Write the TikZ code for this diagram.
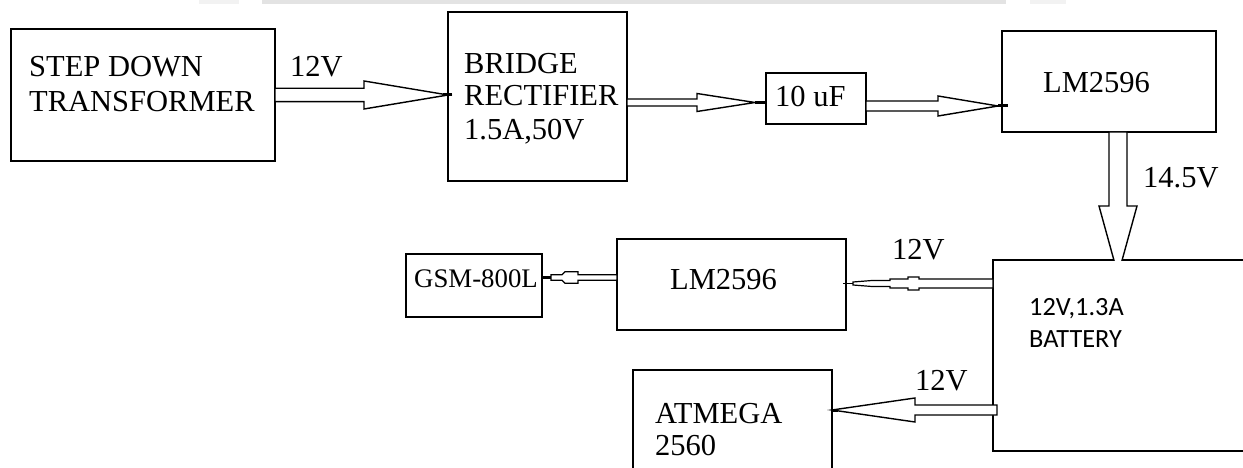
\documentclass[tikz,border=0pt]{standalone}
\usepackage{fontspec}
\setmainfont{Liberation Serif}
\newfontfamily\batfont{Carlito}
\usetikzlibrary{calc}
\tikzset{
  x=1pt, y=-1pt,
  box/.style={draw, line width=1.6pt, inner sep=0pt, outer sep=0pt, anchor=north west, fill=white},
  lbl/.style={anchor=base west, inner sep=0pt, font=\fontsize{30.5}{34}\selectfont},
  gsml/.style={anchor=base west, inner sep=0pt, font=\fontsize{26.8}{30}\selectfont},
  batl/.style={anchor=base west, inner sep=0pt, font=\batfont\fontsize{26.3}{30}\selectfont},
  arrowline/.style={draw, line width=1.4pt, line join=miter, fill=white},
  thinarrow/.style={draw, line width=1.2pt, line join=miter, fill=white},
  stubline/.style={line width=3pt},
}
\newcommand{\boxat}[5]{\node[box, minimum width=#4pt, minimum height=#5pt] (#1) at (#2,#3) {};}
% #1 start coordinate, #2 tip coordinate, #3 shaft half width, #4 head half width, #5 signed head length
\newcommand{\hblock}[5]{%
  \draw[arrowline] let \p1=(#1), \p2=(#2) in
    (\x1,{\y1+#3pt}) -- ({\x2+(#5pt)},{\y1+#3pt}) -- ({\x2+(#5pt)},{\y1+#4pt}) -- (\x2,\y1)
    -- ({\x2+(#5pt)},{\y1-#4pt}) -- ({\x2+(#5pt)},{\y1-#3pt}) -- (\x1,{\y1-#3pt}) -- cycle;}
\begin{document}
\begin{tikzpicture}
\useasboundingbox (0,0) rectangle (1243,468);
% faint strip at the top
\fill[gray!10] (199,0) rectangle (239,4);
\fill[gray!22] (262,0) rectangle (1006,4);
\fill[gray!10] (1030,0) rectangle (1066,4);

% boxes
\boxat{tr}{11}{29}{264}{132}
\boxat{br}{448}{12}{179}{169}
\boxat{cap}{766}{73}{100}{51}
\boxat{lma}{1002}{31}{214}{101}
\boxat{lmb}{617}{239}{229}{91}
\boxat{gsm}{406}{254}{136}{63}
\boxat{atm}{633}{370}{199}{120}
\boxat{bat}{993}{260}{270}{191}

% transformer -> bridge
\coordinate (aS) at (tr.east |- 0,95);
\coordinate (aT) at (br.west |- 0,95);
\hblock{aS}{aT}{6.7}{14}{-84}
\draw[stubline] ($(aT)+(-5,0)$) -- ($(aT)+(4,0)$);

% bridge -> 10 uF
\coordinate (bS) at (br.east |- 0,102.5);
\coordinate (bT) at ($(cap.west |- bS)+(-11,0)$);
\hblock{bS}{bT}{3.5}{9}{-58}
\draw[stubline] (bT) -- (cap.west |- bS);

% 10 uF -> LM2596
\coordinate (cS) at (cap.east |- 0,106);
\coordinate (cT) at ($(lma.west |- cS)+(-4,0)$);
\hblock{cS}{cT}{5}{10}{-60}
\draw[stubline] (cT) -- ($(lma.west |- cS)+(6,0)$);

% LM2596 -> battery (tip hidden behind the battery box)
\coordinate (dS) at ($(lma.south)+(9,0)$);
\begin{scope}
  \clip (lma.south west) rectangle (bat.north east);
  \draw[arrowline] let \p1=(dS) in
    ({\x1-9pt},\y1) -- ({\x1-9pt},{\y1-74pt}) -- ({\x1-19pt},{\y1-74pt}) -- (\x1,{\y1-143pt})
    -- ({\x1+19pt},{\y1-74pt}) -- ({\x1+9pt},{\y1-74pt}) -- ({\x1+9pt},\y1) -- cycle;
\end{scope}

% battery -> lower LM2596
\coordinate (eS) at (bat.west |- 0,283.5);
\coordinate (eT) at ($(lmb.east |- eS)+(-3,0)$);
\draw[thinarrow] let \p1=(eS) in
  (\x1,{\y1+4.5pt}) -- ({\x1-74pt},{\y1+4.5pt}) -- ({\x1-74pt},{\y1+6.5pt}) -- ({\x1-85pt},{\y1+6.5pt})
  -- ({\x1-85pt},{\y1+4.5pt}) -- ({\x1-103pt},{\y1+4.5pt}) -- ({\x1-103pt},{\y1+3pt}) -- ({\x1-121pt},{\y1+3pt})
  -- ({\x1-140pt},{\y1+1.5pt}) -- ({\x1-140pt},{\y1-1.5pt}) -- ({\x1-121pt},{\y1-3pt}) -- ({\x1-103pt},{\y1-3pt})
  -- ({\x1-103pt},{\y1-4.5pt}) -- ({\x1-85pt},{\y1-4.5pt}) -- ({\x1-85pt},{\y1-6.5pt}) -- ({\x1-74pt},{\y1-6.5pt})
  -- ({\x1-74pt},{\y1-4.5pt}) -- (\x1,{\y1-4.5pt}) -- cycle;
\draw[line width=1.2pt] let \p1=(eS) in ({\x1-140pt},\y1) -- (eT);

% lower LM2596 -> GSM
\coordinate (fS) at (lmb.west |- 0,277.5);
\coordinate (fT) at (gsm.east |- fS);
\draw[thinarrow] let \p1=(fS) in
  (\x1,{\y1+2.8pt}) -- ({\x1-39pt},{\y1+2.8pt}) -- ({\x1-39pt},{\y1+5.7pt}) -- ({\x1-52pt},{\y1+5.7pt})
  -- ({\x1-55pt},{\y1+2.8pt}) -- ({\x1-66pt},{\y1+2.8pt}) -- ({\x1-66pt},{\y1-2.8pt}) -- ({\x1-55pt},{\y1-2.8pt})
  -- ({\x1-52pt},{\y1-5.7pt}) -- ({\x1-39pt},{\y1-5.7pt}) -- ({\x1-39pt},{\y1-2.8pt}) -- (\x1,{\y1-2.8pt}) -- cycle;
\draw[stubline] let \p1=(fS) in ({\x1-66pt},\y1) -- (fT);

% battery -> ATMEGA
\coordinate (gS) at ($(bat.west |- 0,410)+(4,0)$);
\coordinate (gT) at (atm.east |- 0,410);
\hblock{gS}{gT}{5}{12}{83}
\draw[stubline] (gT) -- ($(gT)+(6,0)$);

% texts
\node[lbl] (trt1) at (29,77) {STEP DOWN};
\node[lbl] (trt2) at (29,112) {TRANSFORMER};
\node[lbl] (l12a) at (290,77) {12V};
\node[lbl] (brt1) at (464,74) {BRIDGE};
\node[lbl] (brt2) at (464,106) {RECTIFIER};
\node[lbl] (brt3) at (464,140) {1.5A,50V};
\node[lbl] (capt) at (775,107) {10 uF};
\node[lbl] (lmat) at (1043,93) {LM2596};
\node[lbl] (l145) at (1143,188) {14.5V};
\node[lbl] (l12b) at (892,259) {12V};
\node[lbl] (lmbt) at (670,289) {LM2596};
\node[gsml] (gsmt) at (414,287) {GSM-800L};
\node[batl] (batt1) at (1029,315) {12V,1.3A};
\node[batl] (batt2) at (1029,347) {BATTERY};
\node[lbl] (l12c) at (915,390) {12V};
\node[lbl] (atmt1) at (655,423) {ATMEGA};
\node[lbl] (atmt2) at (655,455) {2560};
\end{tikzpicture}
\end{document}
